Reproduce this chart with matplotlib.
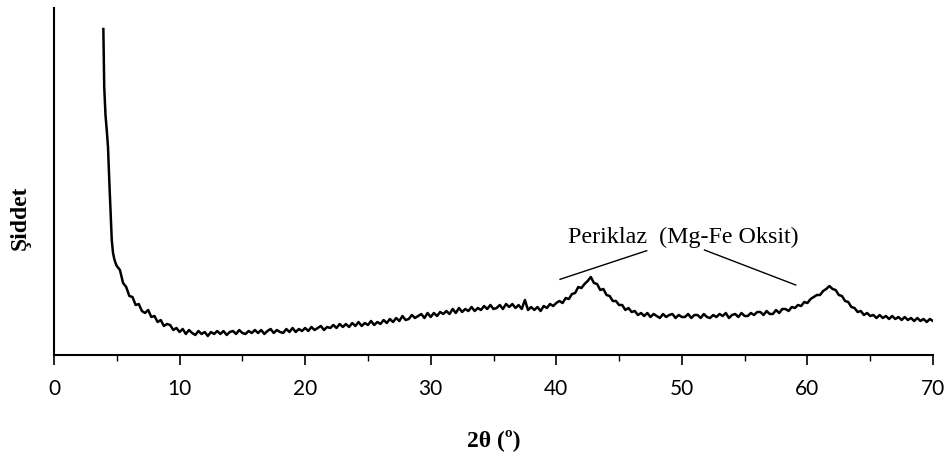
import numpy as np
import matplotlib
matplotlib.use("Agg")
import matplotlib.pyplot as plt

# steep low-angle part
theta_head = [3.93, 4.0, 4.1, 4.2, 4.3, 4.4, 4.5, 4.6, 4.7, 4.8, 4.9, 5.0]
int_head = [326, 268, 240, 225, 208, 175, 145, 115, 102, 96, 92, 89]

# 5.25 .. 70.0 in 0.25 steps
int_body = [
    85, 72, 68, 59,   58, 50, 51, 44,   42, 45, 38, 39,   33, 35, 29, 31,
    30, 25, 27, 23,   26, 21, 25, 22,   20, 24, 21, 23,   19, 23, 21, 24,
    21, 24, 20, 23,   24, 21, 25, 22,   21, 24, 22, 25,   22, 25, 21, 24,
    26, 22, 25, 23,   22, 26, 23, 27,   23, 26, 24, 27,   24, 28, 25, 27,
    29, 25, 28, 27,   30, 27, 31, 28,   31, 28, 32, 29,   33, 29, 32, 30,
    34, 30, 33, 31,   35, 32, 36, 33,   37, 34, 39, 35,   36, 40, 37, 39,
    41, 37, 42, 38,   42, 39, 43, 41,   44, 41, 46, 42,   47, 43, 46, 44,
    48, 44, 47, 45,   49, 46, 50, 46,   47, 50, 46, 51,   48, 51, 47, 50,
    46, 55, 45, 48,   45, 48, 44, 49,   47, 51, 49, 52,   54, 52, 57, 56,
    61, 62, 68, 67,   71, 74, 78, 72,   71, 65, 66, 60,   59, 54, 54, 50,
    50, 45, 47, 43,   44, 40, 42, 39,   42, 38, 41, 39,   37, 41, 38, 40,
    41, 37, 40, 38,   38, 41, 37, 40,   40, 37, 41, 38,   37, 40, 38, 41,
    39, 42, 37, 40,   41, 38, 42, 39,   39, 42, 40, 43,   43, 40, 44, 41,
    41, 45, 42, 46,   46, 44, 48, 47,   50, 49, 53, 52,   56, 58, 60, 60,
    64, 66, 69, 66,   65, 60, 59, 54,   53, 48, 47, 43,   44, 40, 42, 39,
    40, 37, 40, 37,   39, 36, 39, 36,   38, 35, 38, 35,   37, 34, 37, 34,
    36, 33, 36, 34,
]
theta_body = list(np.round(np.arange(5.25, 70.001, 0.25), 2))

two_theta = np.array(theta_head + theta_body)
intensity = np.array(int_head + int_body)

x_ticks = [0, 10, 20, 30, 40, 50, 60, 70]

W, H = 949, 459
fig = plt.figure(figsize=(W / 100, H / 100), dpi=100)
ax = fig.add_axes([54 / W, 1 - 355 / H, (933 - 54) / W, (355 - 8) / H])
ax.plot(two_theta, intensity, color="black", linewidth=1.8)

ax.set_xlim(0, 70)
ax.set_ylim(0, 347)
ax.set_xticks(x_ticks)
ax.set_xticks([5, 15, 25, 35, 45, 55, 65], minor=True)
ax.set_yticks([])
ax.tick_params(axis="x", which="major", direction="out", length=7, width=1.2,
               labelsize=15, pad=10)
ax.tick_params(axis="x", which="minor", direction="out", length=4, width=1.0)
for lab in ax.get_xticklabels():
    lab.set_family("Lato")
for s in ["top", "right"]:
    ax.spines[s].set_visible(False)
for s in ["left", "bottom"]:
    ax.spines[s].set_linewidth(1.5)

fig.text(493.5 / W, 1 - 440 / H, "2θ (º)", family="Liberation Serif",
         fontweight="bold", fontsize=17, ha="center", va="center")
fig.text(20.5 / W, 1 - 218 / H, "Şiddet", family="Liberation Serif",
         fontweight="bold", fontsize=17, ha="center", va="center", rotation=90)

ax.text(50.15, 118, "Periklaz  (Mg-Fe Oksit)", family="Liberation Serif",
        fontsize=17.3, ha="center", va="center")
ax.plot([40.3, 47.2], [75.7, 104.3], color="black", linewidth=1.0)
ax.plot([51.8, 59.07], [105, 70], color="black", linewidth=1.0)

fig.savefig("out.png", dpi=100)
